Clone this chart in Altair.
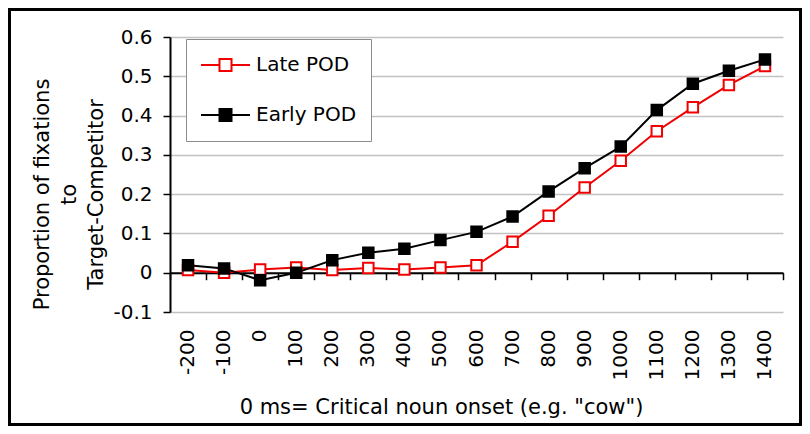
import altair as alt
import pandas as pd

# ---- data ----
times = ["-200", "-100", "0", "100", "200", "300", "400", "500", "600",
         "700", "800", "900", "1000", "1100", "1200", "1300", "1400"]
late_pod = [0.007, 0.000, 0.008, 0.013, 0.007, 0.012, 0.008, 0.013, 0.019,
            0.079, 0.145, 0.217, 0.285, 0.360, 0.421, 0.478, 0.526]
early_pod = [0.019, 0.011, -0.019, 0.000, 0.032, 0.051, 0.061, 0.083, 0.104,
             0.143, 0.207, 0.266, 0.321, 0.414, 0.481, 0.514, 0.543]
series_names = ["Late POD", "Early POD"]
series_strokes = ["#f00000", "#000000"]
series_fills = ["#ffffff", "#000000"]
y_ticks = [-0.1, 0.0, 0.1, 0.2, 0.3, 0.4, 0.5, 0.6]

rows = []
for name, vals in zip(series_names, [late_pod, early_pod]):
    for t, v in zip(times, vals):
        rows.append({"t": t, "v": v, "s": name})
df = pd.DataFrame(rows)

# ---- layout / style ----
W, H = 613, 275
PAD = {"left": 162, "top": 29, "right": 19, "bottom": 114}
FONT = "DejaVu Sans"
YMIN, YMAX = -0.1, 0.6
ZERO_OFFSET = -H * (0 - YMIN) / (YMAX - YMIN)
LEGEND_PATH = "M-1,0H-0.245M0.245,0H1M-0.245,-0.245H0.245V0.245H-0.245Z"

xscale = alt.Scale(type="band", domain=times, paddingInner=0, paddingOuter=0)
yscale = alt.Scale(domain=[YMIN, YMAX], nice=False, zero=False)

yaxis = alt.Axis(
    orient="left",
    values=y_ticks,
    labelExpr="abs(datum.value) < 1e-9 ? '0' : (datum.value < 0 ? '-' + format(-datum.value, '.1f') : format(datum.value, '.1f'))",
    grid=True, gridColor="#c2c2c2", gridWidth=1.5,
    domain=True, domainColor="black", domainWidth=2,
    ticks=True, tickColor="black", tickWidth=1.5, tickSize=7,
    labelPadding=11, labelFont=FONT, labelFontSize=20, labelColor="black",
    title=["Proportion of fixations", "to", "Target-Competitor"],
    titleFont=FONT, titleFontSize=21, titleFontWeight="normal", titleColor="black",
    titleLineHeight=27, titleAngle=270, titleAlign="center", titleBaseline="middle",
    titleX=-128, titleY=157,
)

xaxis = alt.Axis(
    orient="bottom",
    domain=False, ticks=False, grid=False,
    labelAngle=270, labelAlign="right", labelBaseline="middle", labelPadding=17,
    labelFont=FONT, labelFontSize=20, labelColor="black", labelOverlap=False,
    title='0 ms= Critical noun onset (e.g. "cow")',
    titleFont=FONT, titleFontSize=21, titleFontWeight="normal", titleColor="black",
    titleX=271, titleY=95, titleAlign="center", titleBaseline="middle",
)

zero_axis = alt.Axis(
    orient="bottom",
    offset=ZERO_OFFSET, domain=True, domainColor="black", domainWidth=2,
    ticks=True, tickBand="extent", tickColor="black", tickSize=7, tickWidth=1.5,
    labels=False, grid=False, title=None,
)

legend = alt.Legend(
    title=None, orient="none", legendX=16, legendY=2,
    padding=14, symbolOffset=0, clipHeight=24, rowPadding=26, labelOffset=5,
    labelFont=FONT, labelFontSize=20, labelColor="black",
    symbolType=LEGEND_PATH, symbolSize=2401, symbolStrokeWidth=2,
    strokeColor="#8c8c8c", fillColor="white",
)

stroke_enc = alt.Stroke("s:N", scale=alt.Scale(domain=series_names, range=series_strokes),
                        legend=legend, sort=series_names)
fill_enc = alt.Fill("s:N", scale=alt.Scale(domain=series_names, range=series_fills),
                    legend=legend, sort=series_names)
y_enc = alt.Y("v:Q", scale=yscale, axis=yaxis)

frame = alt.Chart(pd.DataFrame({"k": [0]})).mark_rect(
    fillOpacity=0, stroke="black", strokeWidth=3
).encode(
    x=alt.value(-PAD["left"] + 1.5), x2=alt.value(W + PAD["right"] - 1.5),
    y=alt.value(-PAD["top"] + 1.5), y2=alt.value(H + PAD["bottom"] - 1.5),
)

zero = alt.Chart(df).mark_point(opacity=0).encode(
    x=alt.X("t:O", scale=xscale, axis=zero_axis, sort=times),
    y=y_enc,
)

lines = alt.Chart(df).mark_line(strokeWidth=2).encode(
    x=alt.X("t:O", scale=xscale, axis=xaxis, sort=times),
    y=y_enc,
    stroke=stroke_enc,
    detail="s:N",
)

points = alt.Chart(df).mark_point(shape="square", size=110, strokeWidth=2, opacity=1).encode(
    x=alt.X("t:O", scale=xscale, axis=None, sort=times),
    y=y_enc,
    stroke=stroke_enc,
    fill=fill_enc,
)

chart = alt.layer(frame, zero, lines, points).resolve_axis(x="independent").properties(
    width=W, height=H, padding=PAD,
    autosize=alt.AutoSizeParams(type="none"),
    background="white",
).configure_view(strokeWidth=0)

chart.save("out.html", embed_options={"renderer": "svg", "actions": False})
